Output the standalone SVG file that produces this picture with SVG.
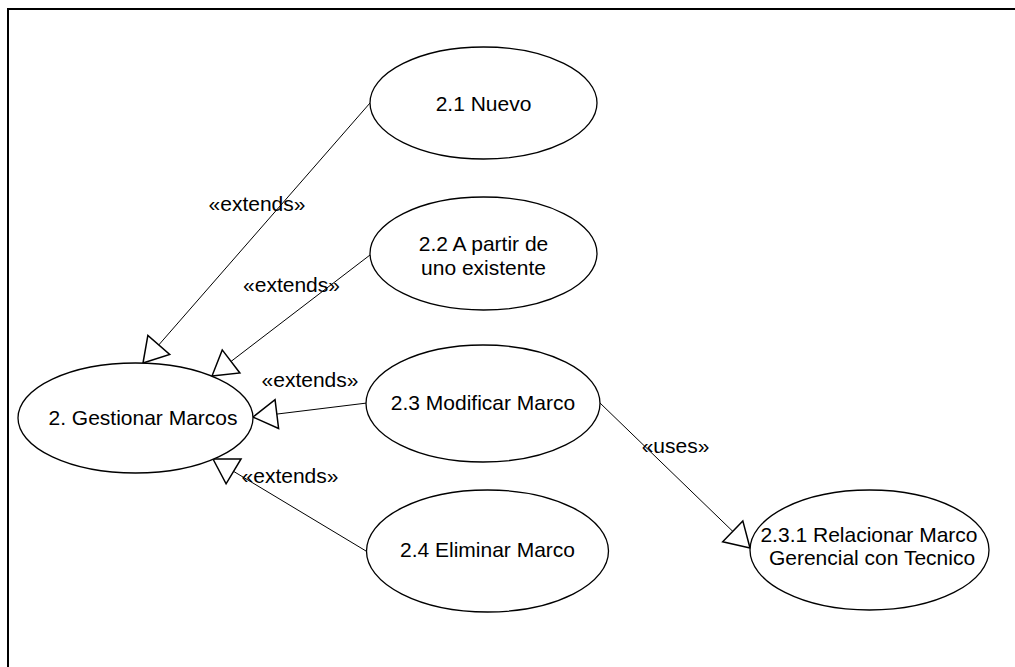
<svg xmlns="http://www.w3.org/2000/svg" width="1015" height="667" viewBox="0 0 1015 667">
  <style>
    .uc { fill: #ffffff; stroke: #000000; stroke-width: 1.3; }
    .lbl { font-family: "Liberation Sans", Arial, sans-serif; font-size: 21px; fill: #000000; text-anchor: middle; }
    .rel { fill: none; stroke: #000000; stroke-width: 1; }
  </style>
  <defs>
    <!-- hollow generalization-style triangle, tip at the path end -->
    <marker id="tri" markerUnits="userSpaceOnUse" markerWidth="30" markerHeight="34" viewBox="-26 -17 30 34" refX="0" refY="0" orient="auto">
      <path d="M0,0 L-24,-14.5 L-24,14.5 Z" fill="#ffffff" stroke="#000000" stroke-width="1.5" stroke-linejoin="miter"/>
    </marker>
  </defs>

  <rect width="1015" height="667" fill="#ffffff"/>

  <!-- frame edges -->
  <path d="M8,667 L8,9 L1015,9" fill="none" stroke="#000000" stroke-width="2"/>

  <!-- connectors -->
  <g id="connectors">
    <path class="rel" d="M370,103 L143,363" marker-end="url(#tri)"/>
    <path class="rel" d="M370,255 L212,376" marker-end="url(#tri)"/>
    <path class="rel" d="M367,403 L253,417" marker-end="url(#tri)"/>
    <path class="rel" d="M366,551 L213,459" marker-end="url(#tri)"/>
    <path class="rel" d="M600,403 L750,548" marker-end="url(#tri)"/>
    <text class="lbl" x="257" y="211">«extends»</text>
    <text class="lbl" x="291.5" y="292">«extends»</text>
    <text class="lbl" x="310" y="387">«extends»</text>
    <text class="lbl" x="290" y="483">«extends»</text>
    <text class="lbl" x="675.5" y="453">«uses»</text>
  </g>

  <g id="gestionar">
    <ellipse class="uc" cx="135.5" cy="418" rx="117.5" ry="55"/>
    <text class="lbl" x="143" y="425">2. Gestionar Marcos</text>
  </g>

  <g id="nuevo">
    <ellipse class="uc" cx="483.5" cy="103" rx="113.5" ry="56"/>
    <text class="lbl" x="483.5" y="111">2.1 Nuevo</text>
  </g>

  <g id="a-partir">
    <ellipse class="uc" cx="483.5" cy="253.5" rx="113.5" ry="56.5"/>
    <text class="lbl" x="483.5" y="251">2.2 A partir de</text>
    <text class="lbl" x="483.5" y="275">uno existente</text>
  </g>

  <g id="modificar">
    <ellipse class="uc" cx="483" cy="403.5" rx="117" ry="58.5"/>
    <text class="lbl" x="483" y="410">2.3 Modificar Marco</text>
  </g>

  <g id="eliminar">
    <ellipse class="uc" cx="487.5" cy="551" rx="121" ry="61"/>
    <text class="lbl" x="487.5" y="557">2.4 Eliminar Marco</text>
  </g>

  <g id="relacionar">
    <ellipse class="uc" cx="869.5" cy="550" rx="119.5" ry="60"/>
    <text class="lbl" x="869" y="542">2.3.1 Relacionar Marco</text>
    <text class="lbl" x="872" y="565">Gerencial con Tecnico</text>
  </g>
</svg>
